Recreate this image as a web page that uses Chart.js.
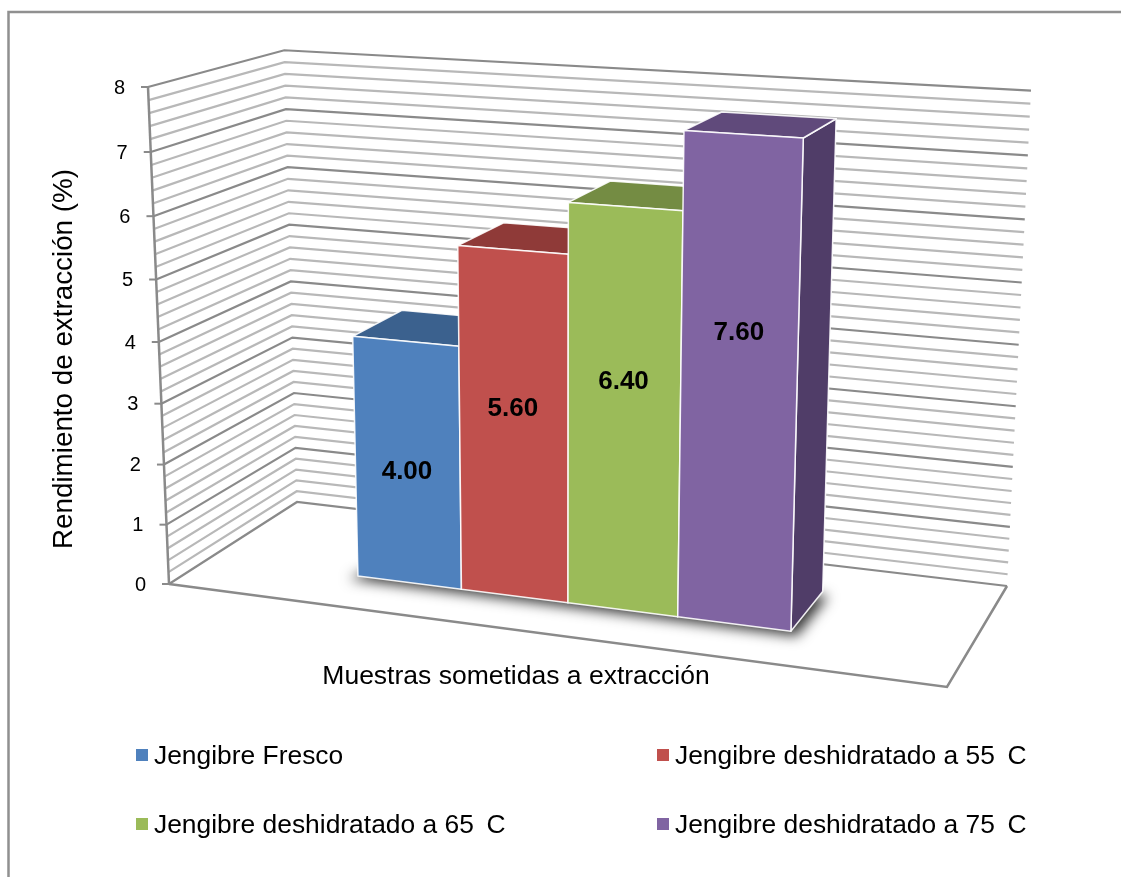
<!DOCTYPE html>
<html lang="es">
<head>
<meta charset="utf-8">
<title>Rendimiento de extracción</title>
<script src="https://cdn.jsdelivr.net/npm/chart.js@4"></script>
<style>
    html, body { margin: 0; padding: 0; background: #fff; overflow: hidden; }
    canvas { display: block; }
</style>
</head>
<body>
<canvas id="rendimientoChart" width="1121" height="877"></canvas>
<script>
// Datos del gráfico
const categories = ["Muestras"];
const seriesNames = [
    "Jengibre Fresco",
    "Jengibre deshidratado a 55\u2009 C",
    "Jengibre deshidratado a 65\u2009 C",
    "Jengibre deshidratado a 75\u2009 C",
];
const seriesValues = [4.0, 5.6, 6.4, 7.6];
const yTitle = "Rendimiento de extracción (%)";
const xTitle = "Muestras sometidas a extracción";

// Colores de cada cara de las barras
const frontColors = ["#4f81bd", "#c0504d", "#9bbb59", "#8064a2"];
const topColors = ["#3b618e", "#8f3a38", "#748c43", "#604a7b"];
const sideColors = ["#345378", "#7c3230", "#647a3a", "#503d68"];

// Cámara: esquinas de la caja 3D en pantalla y factores de perspectiva
const origin = { x: 169, y: 584 };
const xEnd = { x: 947, y: 687 };
const yEnd = { x: 148, y: 87 };
const zEnd = { x: 297, y: 502 };
const persp = { x: -0.1014, y: -0.051, z: 0.1043 };

// Profundidad de las barras dentro de la caja
const BAR_Z_FRONT = 0.306;
const BAR_Z_BACK = 0.72;
// El grupo de barras no queda centrado del todo en el eje
const BAR_SHIFT = -2;

const FONT = '"Liberation Sans", Arial, sans-serif';
const AXIS_COLOR = "#8a8a8a";

// Pasa un píxel del área del gráfico (más profundidad z) a la pantalla
function project(chart, px, py, z) {
    const area = chart.chartArea;
    const X = (px - area.left) / area.width;
    const Y = (area.bottom - py) / area.height;
    const w = 1 + persp.x * X + persp.y * Y + persp.z * z;
    const axis = (k) =>
        (origin[k] +
            (xEnd[k] * (1 + persp.x) - origin[k]) * X +
            (yEnd[k] * (1 + persp.y) - origin[k]) * Y +
            (zEnd[k] * (1 + persp.z) - origin[k]) * z) / w;
    return { x: axis("x"), y: axis("y") };
}

function polygon(ctx, points) {
    ctx.beginPath();
    points.forEach((p, i) => (i ? ctx.lineTo(p.x, p.y) : ctx.moveTo(p.x, p.y)));
    ctx.closePath();
}

function polyline(ctx, points, color, width) {
    ctx.beginPath();
    points.forEach((p, i) => (i ? ctx.lineTo(p.x, p.y) : ctx.moveTo(p.x, p.y)));
    ctx.strokeStyle = color;
    ctx.lineWidth = width;
    ctx.lineJoin = "miter";
    ctx.stroke();
}

// Marco, paredes con la rejilla, suelo y textos de ejes
const boxPlugin = {
    id: "box3d",
    beforeDatasetsDraw(chart) {
        const ctx = chart.ctx;
        const area = chart.chartArea;
        const yScale = chart.scales.y;
        const P = (px, py, z) => project(chart, px, py, z);

        ctx.save();
        // El marco solo tiene lado izquierdo y superior
        polyline(ctx, [{ x: 8.5, y: 900 }, { x: 8.5, y: 12 }, { x: 1121, y: 12 }], "#909090", 2.5);

        // Líneas menores primero para que las mayores queden encima
        const ticks = yScale.ticks.map((t) => t.value);
        const isMajor = (v) => Math.abs(v - Math.round(v)) < 1e-6;
        ticks.filter((v) => !isMajor(v)).forEach((v) => {
            const py = yScale.getPixelForValue(v);
            polyline(ctx, [P(area.left, py, 0), P(area.left, py, 1), P(area.right, py, 1)], "#b8b8b8", 2.2);
        });
        ticks.filter(isMajor).forEach((v) => {
            const py = yScale.getPixelForValue(v);
            polyline(ctx, [P(area.left, py, 0), P(area.left, py, 1), P(area.right, py, 1)], AXIS_COLOR, 2.2);
        });

        // Borde del suelo y eje vertical
        polyline(ctx, [
            P(area.left, area.bottom, 0),
            P(area.right, area.bottom, 0),
            P(area.right, area.bottom, 1),
        ], AXIS_COLOR, 2.5);
        polyline(ctx, [P(area.left, area.top, 0), P(area.left, area.bottom, 0)], AXIS_COLOR, 2.5);

        // Marcas y etiquetas del eje Y
        ctx.fillStyle = "#000";
        ctx.font = "20px " + FONT;
        ctx.textAlign = "right";
        ctx.textBaseline = "middle";
        ticks.filter(isMajor).forEach((v) => {
            const p = P(area.left, yScale.getPixelForValue(v), 0);
            polyline(ctx, [{ x: p.x - 7, y: p.y }, p], AXIS_COLOR, 2);
            ctx.fillText(String(Math.round(v)), p.x - 23, p.y + 1);
        });

        // Títulos de los ejes
        ctx.font = "26.5px " + FONT;
        ctx.textAlign = "center";
        ctx.fillText(xTitle, 516, 677);
        ctx.save();
        ctx.translate(64, 359);
        ctx.rotate(-Math.PI / 2);
        ctx.font = "27.8px " + FONT;
        ctx.fillText(yTitle, 0, 0);
        ctx.restore();

        // Leyenda en dos columnas
        const legendCols = [136, 657];
        const legendRows = [755, 824];
        ctx.font = "26.4px " + FONT;
        ctx.textAlign = "left";
        chart.data.datasets.forEach((ds, i) => {
            const lx = legendCols[i % 2];
            const ly = legendRows[Math.floor(i / 2)];
            ctx.fillStyle = ds.backgroundColor;
            ctx.fillRect(lx, ly - 6, 12, 12);
            ctx.fillStyle = "#000";
            ctx.fillText(ds.label, lx + 18, ly + 2);
        });
        ctx.restore();
    },
    // Las barras planas no se pintan: se dibujan como prismas más abajo
    beforeDatasetDraw() {
        return false;
    },
    afterDatasetsDraw(chart) {
        const ctx = chart.ctx;
        const yScale = chart.scales.y;
        const P = (px, py, z) => project(chart, px, py, z);
        const bars = chart.data.datasets.map((ds, i) => chart.getDatasetMeta(i).data[0]);

        ctx.save();

        // Sombra sobre el suelo: el polígono queda fuera del lienzo y solo se ve su sombra
        const first = bars[0];
        const last = bars[bars.length - 1];
        const left = first.x - first.width / 2 + BAR_SHIFT - 14;
        const right = last.x + last.width / 2 + BAR_SHIFT + 8;
        ctx.save();
        ctx.shadowColor = "rgba(0,0,0,0.8)";
        ctx.shadowBlur = 13;
        ctx.shadowOffsetX = 3000;
        ctx.shadowOffsetY = 4;
        ctx.translate(-3000, 0);
        ctx.fillStyle = "#000";
        polygon(ctx, [
            P(left, first.base, BAR_Z_FRONT),
            P(right, first.base, BAR_Z_FRONT),
            P(right, first.base, BAR_Z_BACK),
            P(left + 40, first.base, BAR_Z_BACK),
        ]);
        ctx.fill();
        ctx.restore();

        bars.forEach((bar, i) => {
            const x0 = bar.x - bar.width / 2 + BAR_SHIFT;
            const x1 = bar.x + bar.width / 2 + BAR_SHIFT;
            const faces = [
                // Lateral derecho
                [sideColors[i], [
                    P(x1, bar.y, BAR_Z_FRONT), P(x1, bar.y, BAR_Z_BACK),
                    P(x1, bar.base, BAR_Z_BACK), P(x1, bar.base, BAR_Z_FRONT),
                ]],
                // Cara superior
                [topColors[i], [
                    P(x0, bar.y, BAR_Z_FRONT), P(x0, bar.y, BAR_Z_BACK),
                    P(x1, bar.y, BAR_Z_BACK), P(x1, bar.y, BAR_Z_FRONT),
                ]],
                // Cara frontal
                [frontColors[i], [
                    P(x0, bar.y, BAR_Z_FRONT), P(x1, bar.y, BAR_Z_FRONT),
                    P(x1, bar.base, BAR_Z_FRONT), P(x0, bar.base, BAR_Z_FRONT),
                ]],
            ];
            faces.forEach(([color, pts]) => {
                polygon(ctx, pts);
                ctx.fillStyle = color;
                ctx.fill();
                ctx.strokeStyle = "rgba(255,255,255,0.9)";
                ctx.lineWidth = 1.5;
                ctx.lineJoin = "round";
                ctx.stroke();
            });
        });

        // Valores sobre la cara frontal
        ctx.fillStyle = "#000";
        ctx.font = "bold 26px " + FONT;
        ctx.textAlign = "center";
        ctx.textBaseline = "middle";
        bars.forEach((bar, i) => {
            const v = seriesValues[i];
            const labelY = yScale.getPixelForValue(0.764 * v - 1.185);
            const p = P(bar.x + BAR_SHIFT, labelY, BAR_Z_FRONT);
            ctx.fillText(v.toFixed(2), p.x - 0.5, p.y + 1);
        });
        ctx.restore();
    },
};

new Chart(document.getElementById("rendimientoChart"), {
    type: "bar",
    data: {
        labels: categories,
        datasets: seriesNames.map((name, i) => ({
            label: name,
            data: [seriesValues[i]],
            backgroundColor: frontColors[i],
        })),
    },
    options: {
        responsive: false,
        animation: false,
        categoryPercentage: 0.574,
        barPercentage: 1,
        layout: { padding: 0 },
        plugins: {
            legend: { display: false },
            tooltip: { enabled: false },
        },
        scales: {
            x: { display: false },
            y: {
                display: false,
                min: 0,
                max: 8,
                ticks: { stepSize: 0.2, autoSkip: false },
            },
        },
    },
    plugins: [boxPlugin],
});
</script>
</body>
</html>
